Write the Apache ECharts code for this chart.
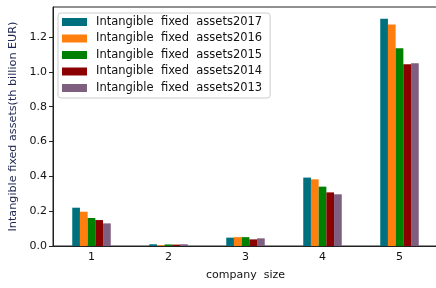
<!DOCTYPE html>
<html>
<head>
<meta charset="utf-8">
<script src="https://cdn.jsdelivr.net/npm/echarts@6/dist/echarts.min.js"></script>
<style>
  html, body { margin: 0; padding: 0; background: #fff; }
  #chart { width: 436px; height: 288px; }
</style>
</head>
<body>
<div id="chart"></div>
<script>
let categories = ['1', '2', '3', '4', '5'];
let seriesNames = [
    'Intangible  fixed  assets2017',
    'Intangible  fixed  assets2016',
    'Intangible  fixed  assets2015',
    'Intangible  fixed  assets2014',
    'Intangible  fixed  assets2013'
];
let assets2017 = [0.220, 0.010, 0.048, 0.393, 1.305];
let assets2016 = [0.197, 0.005, 0.051, 0.383, 1.272];
let assets2015 = [0.161, 0.009, 0.051, 0.341, 1.136];
let assets2014 = [0.149, 0.008, 0.038, 0.308, 1.044];
let assets2013 = [0.130, 0.010, 0.044, 0.297, 1.050];
let yTicks = [0, 0.2, 0.4, 0.6, 0.8, 1.0, 1.2];

let myChart = echarts.init(document.getElementById('chart'));
let color = ['#00707f', '#ff7f0e', '#008000', '#8b0000', '#7f5f7f'];
let allValues = [assets2017, assets2016, assets2015, assets2014, assets2013];

let seriesData = [];
for (let i = 0; i < allValues.length; i++) {
    seriesData.push({
        name: seriesNames[i],
        type: 'bar',
        barWidth: '10%',
        barGap: '0%',
        itemStyle: { color: color[i] },
        data: allValues[i]
    });
}

let option = {
    animation: false,
    textStyle: { fontFamily: 'DejaVu Sans' },
    color: color,
    grid: {
        left: 53,
        right: -2,
        top: 7,
        bottom: 42,
        outerBoundsMode: 'none',
        show: true,
        borderColor: '#222',
        borderWidth: 1
    },
    legend: {
        orient: 'vertical',
        left: 58,
        top: 13,
        itemWidth: 25,
        itemHeight: 8,
        itemGap: 4.5,
        padding: [3, 8, 4, 4],
        borderColor: '#ccc',
        borderWidth: 1,
        borderRadius: 3,
        backgroundColor: '#fff',
        textStyle: { fontSize: 11.5, lineHeight: 12, color: '#111', padding: [0, 0, 0, 4] },
        data: seriesNames.map(function (n) { return { name: n, icon: 'rect' }; })
    },
    xAxis: {
        type: 'category',
        data: categories,
        name: 'company  size',
        nameLocation: 'middle',
        nameGap: 24,
        nameTextStyle: { fontSize: 11, color: '#111' },
        axisLine: { lineStyle: { color: '#222' } },
        axisTick: { alignWithLabel: true, length: 4, lineStyle: { color: '#222' } },
        axisLabel: { fontSize: 11, color: '#111', margin: 6 }
    },
    yAxis: {
        type: 'value',
        min: 0,
        max: 1.373,
        interval: 0.2,
        name: 'Intangible fixed assets(th billion EUR)',
        nameLocation: 'middle',
        nameGap: 33,
        nameTextStyle: { fontSize: 11.2, color: '#1d2550' },
        axisLine: { show: true, lineStyle: { color: '#222' } },
        axisTick: { show: true, length: 4, lineStyle: { color: '#222' } },
        splitLine: { show: false },
        axisLabel: {
            fontSize: 11,
            color: '#111',
            margin: 6,
            showMaxLabel: false,
            formatter: function (v) {
                return yTicks.indexOf(Math.round(v * 10) / 10) >= 0 ? v.toFixed(1) : '';
            }
        }
    },
    series: seriesData
};
myChart.setOption(option);

window.addEventListener('resize', function () {
    myChart.resize();
});
</script>
</body>
</html>
